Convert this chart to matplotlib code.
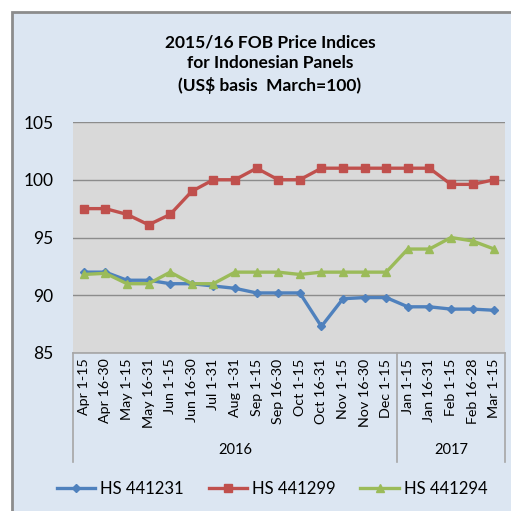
import matplotlib.pyplot as plt
from matplotlib.patches import Rectangle
from matplotlib.lines import Line2D
import matplotlib.transforms as mtransforms

plt.rcParams['font.family'] = ['Lato', 'DejaVu Sans']

periods = ["Apr 1-15", "Apr 16-30", "May 1-15", "May 16-31", "Jun 1-15",
           "Jun 16-30", "Jul 1-31", "Aug 1-31", "Sep 1-15", "Sep 16-30",
           "Oct 1-15", "Oct 16-31", "Nov 1-15", "Nov 16-30", "Dec 1-15",
           "Jan 1-15", "Jan 16-31", "Feb 1-15", "Feb 16-28", "Mar 1-15"]
years = ["2016", "2017"]
year_counts = [15, 5]

hs441231 = [92.0, 92.0, 91.3, 91.3, 91.0, 91.0, 90.8, 90.6, 90.2, 90.2,
            90.2, 87.3, 89.7, 89.8, 89.8, 89.0, 89.0, 88.8, 88.8, 88.7]
hs441299 = [97.5, 97.5, 97.0, 96.1, 97.0, 99.0, 100.0, 100.0, 101.0, 100.0,
            100.0, 101.0, 101.0, 101.0, 101.0, 101.0, 101.0, 99.6, 99.6, 100.0]
hs441294 = [91.8, 91.9, 91.0, 91.0, 92.0, 91.0, 91.0, 92.0, 92.0, 92.0,
            91.8, 92.0, 92.0, 92.0, 92.0, 94.0, 94.0, 95.0, 94.7, 94.0]

W = 511
fig = plt.figure(figsize=(5.11, 5.11), dpi=100, facecolor='white')

# chart area background with border
fig.patches.append(Rectangle((12 / W, -0.1), 1.2, 1 - 12 / W + 0.1,
                             transform=fig.transFigure, facecolor='#DCE6F2',
                             edgecolor='#8C8C8C', linewidth=2, zorder=-10))

fig.text(270 / W, 1 - 64 / W, "2015/16 FOB Price Indices\nfor Indonesian Panels\n(US$ basis  March=100)",
         ha='center', va='center', fontsize=12.5, fontweight='bold',
         linespacing=1.4, color='black')

ax = fig.add_axes([73 / W, 1 - 353 / W, 432 / W, 231 / W])
ax.set_facecolor('#D9D9D9')

x = list(range(len(periods)))
ax.plot(x, hs441231, color='#4F81BD', lw=2.4, marker='D', ms=4.5, label='HS 441231', zorder=3)
ax.plot(x, hs441299, color='#C0504D', lw=2.4, marker='s', ms=6, label='HS 441299', zorder=3)
ax.plot(x, hs441294, color='#9BBB59', lw=2.4, marker='^', ms=6, label='HS 441294', zorder=3)

ax.set_xlim(-0.5, len(periods) - 0.5)
ax.set_ylim(85, 105)
ax.set_yticks([85, 90, 95, 100, 105])
ax.grid(axis='y', color='#8C8C8C', lw=1)
ax.set_axisbelow(True)
for s in ['top', 'right', 'left']:
    ax.spines[s].set_visible(False)
ax.spines['bottom'].set_color('#A6A6A6')
ax.spines['bottom'].set_linewidth(1.2)
ax.tick_params(axis='y', length=0, labelsize=12.5, pad=14)
ax.tick_params(axis='x', length=0, labelsize=10.3, pad=4)
ax.set_xticks(x)
ax.set_xticklabels(periods, rotation=90, ha='center', va='top')

# multi-level category separators and year labels
trans = mtransforms.blended_transform_factory(ax.transData, ax.transAxes)
edges = [-0.5]
for c in year_counts:
    edges.append(edges[-1] + c)
for e in edges:
    ax.add_line(Line2D([e, e], [0, -109 / 231], transform=trans, color='#A6A6A6',
                       lw=1.2, clip_on=False))
for i, yr in enumerate(years):
    mid = (edges[i] + edges[i + 1]) / 2
    ax.text(mid, -97 / 231, yr, transform=trans, ha='center', va='center', fontsize=10.5)

fig.legend(loc='center', bbox_to_anchor=(272 / W, 1 - 489 / W), ncol=3, frameon=False,
           fontsize=12, handlelength=2.3, columnspacing=1.5, handletextpad=0.3)

fig.savefig('out.png', dpi=100, facecolor='white')
